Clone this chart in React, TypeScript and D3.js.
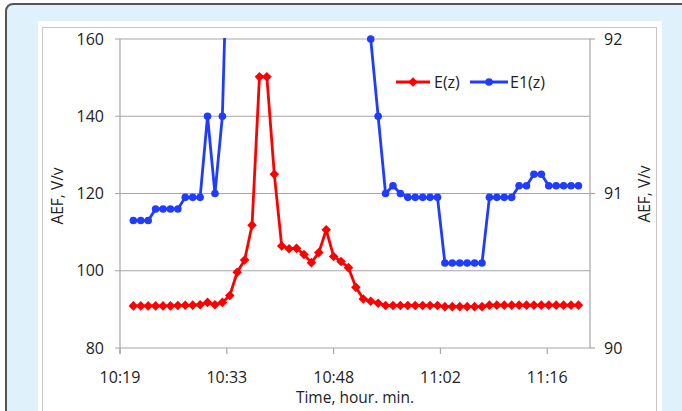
import React from "react";
import * as d3 from "d3";

const times = [
  "10:21","10:22","10:23","10:24","10:25","10:26","10:27","10:28","10:29","10:30",
  "10:31","10:32","10:33","10:34","10:35","10:36","10:37","10:38","10:39","10:40",
  "10:41","10:42","10:43","10:44","10:45","10:46","10:47","10:48","10:49","10:50",
  "10:51","10:52","10:53","10:54","10:55","10:56","10:57","10:58","10:59","11:00",
  "11:01","11:02","11:03","11:04","11:05","11:06","11:07","11:08","11:09","11:10",
  "11:11","11:12","11:13","11:14","11:15","11:16","11:17","11:18","11:19","11:20",
  "11:21",
];

// E(z), left axis
const seriesE: number[] = [
  90.9, 90.9, 90.9, 90.9, 90.9, 90.9, 91.0, 91.05, 91.1, 91.2,
  91.8, 91.2, 91.8, 93.6, 99.6, 102.8, 111.8, 150.2, 150.2, 125.0,
  106.4, 105.7, 105.8, 104.2, 102.1, 104.7, 110.6, 103.7, 102.4, 100.8,
  95.7, 92.7, 92.1, 91.6, 91.0, 91.0, 91.0, 91.0, 91.0, 91.0,
  91.0, 91.0, 90.7, 90.7, 90.7, 90.7, 90.7, 90.7, 91.1, 91.1,
  91.1, 91.1, 91.1, 91.1, 91.1, 91.1, 91.1, 91.1, 91.1, 91.1,
  91.1,
];

// E1(z), right axis (values above 92 run off the chart)
const seriesE1: (number | null)[] = [
  90.825, 90.825, 90.825, 90.9, 90.9, 90.9, 90.9, 90.975, 90.975, 90.975,
  91.5, 91.0, 91.5, 93.2, null, null, null, null, null, null,
  null, null, null, null, null, null, null, null, null, null,
  null, null, 92.0, 91.5, 91.0, 91.05, 91.0, 90.975, 90.975, 90.975,
  90.975, 90.975, 90.55, 90.55, 90.55, 90.55, 90.55, 90.55, 90.975, 90.975,
  90.975, 90.975, 91.05, 91.05, 91.125, 91.125, 91.05, 91.05, 91.05, 91.05,
  91.05,
];

const xTickValues = [0.43, 0.44, 0.45, 0.46, 0.47];
const xTickLabels = ["10:19", "10:33", "10:48", "11:02", "11:16"];
const leftTicks = [80, 100, 120, 140, 160];
const rightTicks = [90, 91, 92];
const seriesNames = ["E(z)", "E1(z)"];

const W = 682;
const H = 411;
const M = { left: 120, right: 590, top: 39, bottom: 348 };
const RED = "#ff0000";
const BLUE = "#1f3cff";
const FONT = "'Open Sans', 'Noto Sans', sans-serif";
const AXIS = "#a6a6a6";

function toDay(t: string) {
  const [h, m] = t.split(":").map(Number);
  return (h * 60 + m) / 1440;
}

export default function App() {
  const x = d3.scaleLinear().domain([0.43, 0.474]).range([M.left, M.right]);
  const yL = d3.scaleLinear().domain([80, 160]).range([M.bottom, M.top]);
  const yR = d3.scaleLinear().domain([90, 92]).range([M.bottom, M.top]);

  const ptsE = times.map((t, i) => ({ x: x(toDay(t)), v: seriesE[i] }));
  const ptsE1 = times.map((t, i) => ({ x: x(toDay(t)), v: seriesE1[i] }));

  const lineE = d3
    .line<{ x: number; v: number }>()
    .x((d) => d.x)
    .y((d) => yL(d.v))(ptsE) as string;
  const lineE1 = d3
    .line<{ x: number; v: number | null }>()
    .defined((d) => d.v !== null)
    .x((d) => d.x)
    .y((d) => yR(d.v as number))(ptsE1) as string;

  const diamond = (cx: number, cy: number, r = 4.8) =>
    `M${cx},${cy - r}L${cx + r},${cy}L${cx},${cy + r}L${cx - r},${cy}Z`;

  return (
    <div style={{ position: "absolute", left: 0, top: 0 }}>
      <svg width={W} height={H} style={{ display: "block" }} fontFamily={FONT}>
        <defs>
          <clipPath id="plotclip">
            <rect x={M.left} y={M.top - 1} width={M.right - M.left} height={M.bottom - M.top + 2} />
          </clipPath>
        </defs>
        {/* outer frame */}
        <rect x={0} y={0} width={W} height={H} fill="#ffffff" />
        <rect x={6} y={4} width={720} height={450} rx={7} fill="#dff1fb" stroke="#555" strokeWidth={2} />
        <rect x={38} y={21} width={624} height={420} fill="#ffffff" />
        <rect x={42.5} y={27.5} width={614} height={420} fill="none" stroke="#c8c8c8" strokeWidth={1} />

        {/* gridlines */}
        {leftTicks.map((t) => (
          <line key={"g" + t} x1={M.left - 5} x2={M.right} y1={yL(t)} y2={yL(t)} stroke={AXIS} strokeWidth={1.2} />
        ))}
        {/* left axis */}
        <line x1={M.left} x2={M.left} y1={M.top} y2={M.bottom + 6} stroke={AXIS} strokeWidth={1.2} />
        {leftTicks.map((t) => (
          <text key={"l" + t} x={104} y={yL(t)} dy="0.35em" textAnchor="end" fontSize={16} fill="#222">
            {t}
          </text>
        ))}
        {/* right axis */}
        <line x1={M.right} x2={M.right} y1={M.top} y2={M.bottom} stroke={AXIS} strokeWidth={1.2} />
        {rightTicks.map((t) => (
          <g key={"r" + t}>
            <line x1={M.right} x2={M.right + 5} y1={yR(t)} y2={yR(t)} stroke={AXIS} strokeWidth={1.2} />
            <text x={604} y={yR(t)} dy="0.35em" textAnchor="start" fontSize={16} fill="#222">
              {t}
            </text>
          </g>
        ))}
        {/* x ticks */}
        {xTickValues.map((t, i) => (
          <g key={"x" + t}>
            <line x1={x(t)} x2={x(t)} y1={M.bottom} y2={M.bottom + 6} stroke={AXIS} strokeWidth={1.2} />
            <text x={x(t)} y={377} dy="0.35em" textAnchor="middle" fontSize={16} fill="#222">
              {xTickLabels[i]}
            </text>
          </g>
        ))}
        <text x={355} y={398} dy="0.35em" textAnchor="middle" fontSize={15.5} fill="#222">
          Time, hour. min.
        </text>
        <text transform="translate(58,196) rotate(-90)" dy="0.35em" textAnchor="middle" fontSize={15.5} fill="#222">
          AEF, V/v
        </text>
        <text transform="translate(645,194) rotate(-90)" dy="0.35em" textAnchor="middle" fontSize={15.5} fill="#222">
          AEF, V/v
        </text>

        {/* series */}
        <g clipPath="url(#plotclip)">
          <path d={lineE1} fill="none" stroke={BLUE} strokeWidth={2.8} strokeLinejoin="round" />
          <path d={lineE} fill="none" stroke={RED} strokeWidth={2.8} strokeLinejoin="round" />
        </g>
        {ptsE1
          .filter((d) => d.v !== null && (d.v as number) <= 92)
          .map((d, i) => (
            <circle key={"b" + i} cx={d.x} cy={yR(d.v as number)} r={3.8} fill={BLUE} />
          ))}
        {ptsE.map((d, i) => (
          <path key={"d" + i} d={diamond(d.x, yL(d.v))} fill={RED} />
        ))}

        {/* legend */}
        <line x1={396} x2={430} y1={82} y2={82} stroke={RED} strokeWidth={2.8} />
        <path d={diamond(413, 82)} fill={RED} />
        <text x={434} y={82} dy="0.35em" fontSize={16} fill="#222">
          {seriesNames[0]}
        </text>
        <line x1={470} x2={508} y1={82} y2={82} stroke={BLUE} strokeWidth={2.8} />
        <circle cx={489} cy={82} r={3.8} fill={BLUE} />
        <text x={510} y={82} dy="0.35em" fontSize={16} fill="#222">
          {seriesNames[1]}
        </text>
      </svg>
    </div>
  );
}
